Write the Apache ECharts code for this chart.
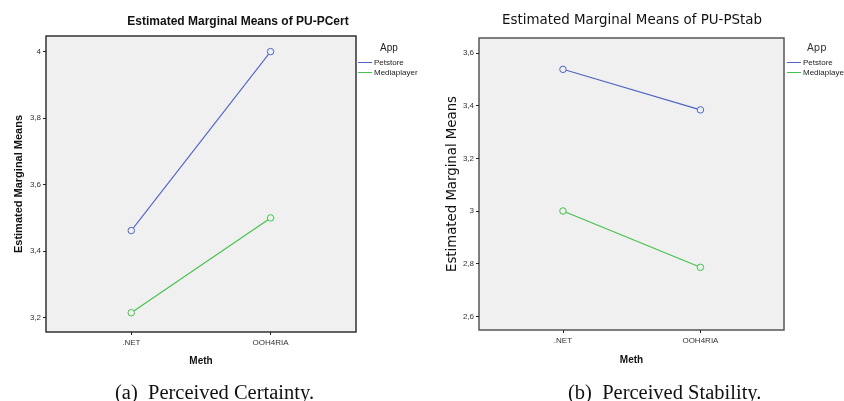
<!DOCTYPE html>
<html><head><meta charset="utf-8">
<script src="https://cdn.jsdelivr.net/npm/echarts@6/dist/echarts.min.js"></script>
<style>html,body{margin:0;padding:0;background:#fff}#c{width:844px;height:401px}</style>
</head><body><div id="c"></div>
<script>
const methods = ['.NET', 'OOH4RIA'];
const certPetstore = [3.462, 4.0];
const certMediaplayer = [3.215, 3.5];
const stabPetstore = [3.538, 3.384];
const stabMediaplayer = [3.0, 2.786];
const certTicks = [3.2, 3.4, 3.6, 3.8, 4.0];
const stabTicks = [2.6, 2.8, 3.0, 3.2, 3.4, 3.6];
const seriesNames = ['Petstore', 'Mediaplayer'];

const BLUE = '#5064c4', GREEN = '#45c14b';
const COLORS = [BLUE, GREEN];
const SANS = 'Liberation Sans', DV = 'DejaVu Sans';
const toPts = arr => arr.map((v, i) => [i, v]);
const commaFmt = v => String(Math.round(v * 10) / 10).replace('.', ',');

function xAx(gi, min, max, nameGap) {
  return {
    type: 'value', gridIndex: gi, min: min, max: max,
    axisLine: {show: false, onZero: false},
    splitLine: {show: false},
    axisTick: {show: true, length: 3, customValues: [0, 1], lineStyle: {color: '#222', width: 1}},
    axisLabel: {customValues: [0, 1], formatter: v => methods[Math.round(v)] || '', fontFamily: SANS, fontSize: 8, color: '#333', margin: 7},
    name: 'Meth', nameLocation: 'middle', nameGap: nameGap,
    nameTextStyle: {fontFamily: SANS, fontWeight: 'bold', fontSize: 10, color: '#111'}
  };
}
function yAx(gi, min, max, ticks, nameFont, nameWeight, nameSize, nameGap) {
  return {
    type: 'value', gridIndex: gi, min: min, max: max,
    axisLine: {show: false, onZero: false},
    splitLine: {show: false},
    axisTick: {show: true, length: 3, customValues: ticks, lineStyle: {color: '#222', width: 1}},
    axisLabel: {customValues: ticks, formatter: commaFmt, fontFamily: SANS, fontSize: 8, color: '#333', margin: 5},
    name: 'Estimated Marginal Means', nameLocation: 'middle', nameGap: nameGap,
    nameTextStyle: {fontFamily: nameFont, fontWeight: nameWeight, fontSize: nameSize, color: '#111'}
  };
}
function ser(name, data, color, gi) {
  return {
    type: 'line', name: name, xAxisIndex: gi, yAxisIndex: gi, data: toPts(data),
    symbol: 'circle', symbolSize: 6.5,
    lineStyle: {color: color, width: 1.1},
    itemStyle: {color: '#f0f0f0', borderColor: color, borderWidth: 1},
    animation: false
  };
}
function legend(left, top) {
  return {
    orient: 'vertical', left: left, top: top,
    data: seriesNames.map((n, i) => ({name: n, itemStyle: {color: COLORS[i], borderWidth: 0}})),
    icon: 'rect', itemWidth: 14, itemHeight: 1, itemGap: 1,
    textStyle: {fontFamily: SANS, fontSize: 8, color: '#222', lineHeight: 9, padding: [0, 0, 0, -3]},
    padding: 0, selectedMode: false
  };
}

const chart = echarts.init(document.getElementById('c'), null, {renderer: 'canvas'});
chart.setOption({
  animation: false,
  backgroundColor: '#fff',
  title: [
    {text: 'Estimated Marginal Means of PU-PCert', left: 238, top: 16, textAlign: 'center', padding: 0,
     textStyle: {fontFamily: SANS, fontWeight: 'bold', fontSize: 12, color: '#111'}},
    {text: 'Estimated Marginal Means of PU-PStab', left: 632, top: 14, textAlign: 'center', padding: 0,
     textStyle: {fontFamily: DV, fontWeight: 'normal', fontSize: 13.4, color: '#111'}}
  ],
  grid: [
    {left: 46, top: 36, width: 310, height: 296, show: true, backgroundColor: '#f0f0f0', borderColor: '#333', borderWidth: 1.5},
    {left: 479, top: 38, width: 305, height: 292, show: true, backgroundColor: '#f0f0f0', borderColor: '#555', borderWidth: 1.5}
  ],
  xAxis: [xAx(0, -0.612, 1.613, 24), xAx(1, -0.611, 1.608, 25)],
  yAxis: [yAx(0, 3.157, 4.047, certTicks, SANS, 'bold', 11, 22), yAx(1, 2.548, 3.657, stabTicks, DV, 'normal', 13.3, 19)],
  legend: [legend(358, 58), legend(787, 58)],
  series: [
    ser(seriesNames[0], certPetstore, BLUE, 0),
    ser(seriesNames[1], certMediaplayer, GREEN, 0),
    ser(seriesNames[0], stabPetstore, BLUE, 1),
    ser(seriesNames[1], stabMediaplayer, GREEN, 1)
  ],
  graphic: [
    {type: 'text', left: 380, top: 43, style: {text: 'App', font: '10px "Liberation Sans"', fill: '#222'}},
    {type: 'text', left: 807, top: 43, style: {text: 'App', font: '10px "DejaVu Sans"', fill: '#333'}},
    {type: 'text', left: 115, top: 383, style: {text: '(a)  Perceived Certainty.', font: '20.5px "Liberation Serif"', fill: '#111'}},
    {type: 'text', left: 568, top: 383, style: {text: '(b)  Perceived Stability.', font: '20.5px "Liberation Serif"', fill: '#111'}}
  ]
});
</script>
</body></html>
